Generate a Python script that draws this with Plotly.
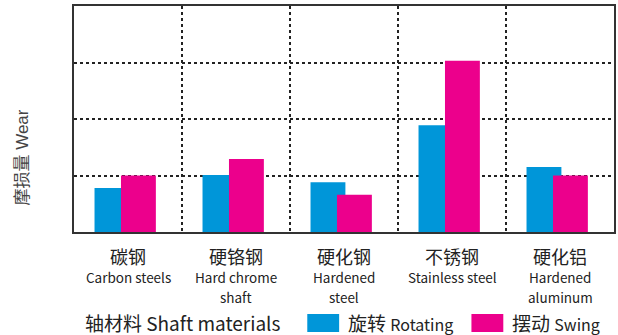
import plotly.graph_objects as go

# shaft materials (Chinese name / English name, one entry per text line)
materials_cn = ['碳钢', '硬铬钢', '硬化钢', '不锈钢', '硬化铝']
materials_en = [['Carbon steels'], ['Hard chrome', 'shaft'], ['Hardened', 'steel'],
                ['Stainless steel'], ['Hardened', 'aluminum']]

# wear amount (relative units)
wear_rotating = [0.78, 1.01, 0.88, 1.89, 1.15]
wear_swing = [1.00, 1.29, 0.66, 3.03, 1.00]

series_cn = ['旋转', '摆动']
series_en = ['Rotating', 'Swing']
series_colors = ['#0096D9', '#EC008C']

FONT_CN = 'Noto Sans CJK SC'

fig = go.Figure()

fig.add_trace(go.Bar(
    x=materials_cn, y=wear_rotating, name=series_en[0],
    marker=dict(color=series_colors[0], line=dict(width=0)),
    width=0.323, offset=-0.31,
))
fig.add_trace(go.Bar(
    x=materials_cn, y=wear_swing, name=series_en[1],
    marker=dict(color=series_colors[1], line=dict(width=0)),
    width=0.323, offset=-0.065,
))

fig.update_xaxes(
    type='category', tickson='boundaries', showticklabels=False, ticks='',
    showgrid=True, gridcolor='#222', gridwidth=1.5, griddash='3px,3px',
    showline=True, mirror=True, linecolor='#333', linewidth=1.5,
)
fig.update_yaxes(
    range=[0, 4], dtick=1, showticklabels=False, ticks='',
    showgrid=True, gridcolor='#222', gridwidth=1.5, griddash='3px,3px',
    showline=True, mirror=True, linecolor='#333', linewidth=1.5,
    zeroline=False,
)

annotations = []
# category labels below the axis
line_y = [-0.199, -0.288]
for cn, en in zip(materials_cn, materials_en):
    annotations.append(dict(
        x=cn, xref='x', y=-0.106, yref='paper', text=cn, showarrow=False,
        xanchor='center', yanchor='middle',
        font=dict(family=FONT_CN, size=18, color='#222'),
    ))
    for line, ly in zip(en, line_y):
        annotations.append(dict(
            x=cn, xref='x', y=ly, yref='paper', text=line, showarrow=False,
            xanchor='center', yanchor='middle',
            font=dict(family=FONT_CN, size=13.5, color='#222'),
        ))

# y axis title
annotations.append(dict(
    x=-0.096, xref='paper', y=0.33, yref='paper', text='摩损量 Wear',
    textangle=-90, showarrow=False, xanchor='center', yanchor='middle',
    font=dict(family='Liberation Sans, ' + FONT_CN, size=17, color='#444'),
))

# x axis title and hand-made legend
annotations.append(dict(
    x=0.0166, xref='paper', y=-0.40, yref='paper', text='轴材料 Shaft materials',
    showarrow=False, xanchor='left', yanchor='middle',
    font=dict(family=FONT_CN, size=19, color='#222'),
))
legend_pos = [(0.432, 0.504), (0.736, 0.808)]
shapes = []
for (sx, tx), cn, en, col in zip(legend_pos, series_cn, series_en, series_colors):
    shapes.append(dict(
        type='rect', xref='paper', yref='paper',
        x0=sx, x1=sx + 0.059, y0=-0.442, y1=-0.363,
        fillcolor=col, line=dict(width=0),
    ))
    annotations.append(dict(
        x=tx, xref='paper', y=-0.40, yref='paper',
        text=cn + ' <span style="font-size:16px">' + en + '</span>',
        showarrow=False, xanchor='left', yanchor='middle',
        font=dict(family=FONT_CN, size=19, color='#222'),
    ))

fig.update_layout(
    width=618, height=335,
    margin=dict(l=74, r=2, t=6, b=103),
    barmode='overlay', showlegend=False,
    plot_bgcolor='white', paper_bgcolor='white',
    annotations=annotations, shapes=shapes,
)

# page body has a default 8px margin; drop it so the figure fills the window
fig.write_html("out.html", config={'displayModeBar': False},
               post_script="document.body.style.margin='0';")
